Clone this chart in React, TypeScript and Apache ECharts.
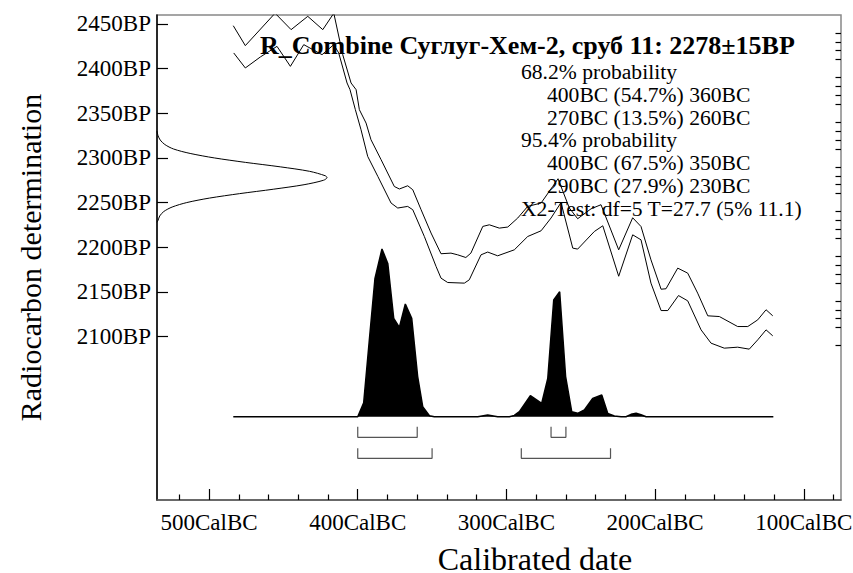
import React, { useEffect, useRef } from "react";
import * as echarts from "echarts";

// ---------- data ----------
const TITLE = "R_Combine Суглуг-Хем-2, сруб 11: 2278±15BP";
const X_NAME = "Calibrated date";
const Y_NAME = "Radiocarbon determination";
const RANGES_68: [number, number, number][] = [
  [400, 360, 54.7],
  [270, 260, 13.5],
];
const RANGES_95: [number, number, number][] = [
  [400, 350, 67.5],
  [290, 230, 27.9],
];
const CHI_TEXT = "X2-Test: df=5 T=27.7 (5% 11.1)";

const X_LABELS = [100, 200, 300, 400, 500]; // CalBC
const X_MINOR = [80, 120, 140, 160, 180, 220, 240, 260, 280, 320, 340, 360, 380, 420, 440, 460, 480, 520];
const Y_LABELS = [2100, 2150, 2200, 2250, 2300, 2350, 2400, 2450]; // BP
const Y_MINOR = [2090, 2110, 2120, 2130, 2140, 2160, 2170, 2180, 2190, 2210, 2220, 2230, 2240, 2260, 2270, 2280, 2290, 2310, 2320, 2330, 2340, 2360, 2370, 2380, 2390, 2410, 2420, 2430, 2440];

// calibration curve (+1 sigma / -1 sigma), [calBC, BP]
const CURVE_UPPER: [number, number][] = [
  [483.7, 2448], [475.6, 2425.7], [455.6, 2462], [444.8, 2443.6], [433.6, 2458.5], [423.5, 2443.6],
  [416.1, 2462], [410.1, 2415.6], [404.5, 2383.9], [401.1, 2376.4], [398.9, 2354], [394.4, 2339],
  [391.1, 2320.4], [384.3, 2298], [375.4, 2268], [372, 2265.2], [366.4, 2268.8], [363, 2264.4],
  [357.4, 2242], [350.7, 2215.9], [344, 2192.7], [337.3, 2193.4], [332.8, 2191.5], [327.3, 2188.5],
  [323.9, 2193.4], [315.9, 2223.3], [311.5, 2225.1], [304.8, 2221.4], [299.1, 2222.6], [292.4, 2232.7],
  [285.7, 2245.7], [276.7, 2249.5], [268.9, 2268], [265.3, 2276.7], [257.7, 2243.9], [252.1, 2231.9],
  [243.1, 2243], [236.4, 2247.6], [224.5, 2197.1], [215.1, 2233], [209.5, 2223.2], [202.8, 2185.9],
  [196, 2153], [192.7, 2153.5], [184.8, 2176.6], [178.1, 2171], [171.4, 2148.6], [164.6, 2123.2],
  [156.8, 2122.4], [144.5, 2111.2], [137.7, 2111.2], [131, 2118.7], [125.4, 2130], [120.9, 2123.2],
];
const CURVE_LOWER: [number, number][] = [
  [483.4, 2417.5], [475.6, 2400.7], [465.5, 2413], [454.3, 2424.9], [445.3, 2402.5], [436.3, 2426.8],
  [424, 2415.6], [416.1, 2426.8], [412.8, 2417.5], [407.2, 2383.9], [405.2, 2376.4], [401.6, 2354],
  [397.8, 2331.6], [393.3, 2301.7], [386.5, 2279.3], [377.6, 2249.5], [373.1, 2243.9], [366.4, 2245.7],
  [363, 2242], [355.2, 2212], [347.3, 2178.4], [344, 2165.4], [339.5, 2160.5], [328.3, 2159.8],
  [325, 2163.5], [317.1, 2191.5], [312.6, 2194.6], [305.9, 2190.4], [294.7, 2197.1], [285.7, 2212],
  [276.7, 2218.4], [270, 2232.7], [263.3, 2250], [255.4, 2199], [252.1, 2197.9], [240.9, 2217.6],
  [235.2, 2224], [224.5, 2167.5], [215.1, 2213.9], [209.5, 2208.3], [202.8, 2159.8], [196, 2129.1],
  [191.5, 2129.1], [184.3, 2145.9], [178.1, 2140], [169.1, 2107.5], [162.4, 2092.6], [153.5, 2087],
  [144.5, 2088.1], [136.7, 2085.9], [131, 2096.3], [125.4, 2107.5], [120.9, 2100.8],
];

// measured radiocarbon date distribution, [BP, relative probability]
const DATE_DIST: [number, number][] = [
  [2330, 0], [2325, 0.6], [2320, 1.9], [2315, 4.6], [2310, 9.7], [2305, 19.5], [2300, 33.7],
  [2295, 52], [2290, 72.5], [2285, 89.7], [2280, 99], [2278, 100], [2275, 98], [2270, 86.5],
  [2265, 68.7], [2260, 48.6], [2255, 30.8], [2250, 17.5], [2245, 8.9], [2240, 4], [2235, 1.6],
  [2230, 0.6], [2228, 0],
];

// calibrated distribution, [calBC, relative probability]
const POSTERIOR: [number, number][] = [
  [483.7, 0], [400, 0], [396, 8.3], [392.2, 45.7], [388.4, 82.5], [383.7, 100], [379.8, 91.4],
  [375.8, 58.6], [372, 53.3], [368, 67.2], [363.7, 58.6], [359.7, 23.9], [356.3, 6], [351.8, 0.6],
  [348.5, 0], [319.3, 0], [312.6, 1], [305.9, 0], [298, 0], [294.7, 0.8], [291.3, 3], [283.9, 12.5],
  [276.3, 7.9], [272.2, 22.8], [268.2, 69.6], [264.2, 74.5], [260.2, 23.9], [256.1, 3], [252.1, 2],
  [247.6, 4], [242, 10.9], [235.9, 12.9], [231.9, 2], [227.4, 0.4], [222.9, 0], [219.6, 0],
  [216.2, 1.4], [212.8, 2], [209.5, 1.2], [206.1, 0], [120.5, 0],
];

// ---------- layout ----------
const W = 853;
const H = 573;
const GRID = { left: 157, right: 12, top: 15, bottom: 73 };
const X_MIN = 75;
const X_MAX = 535;
const Y_MIN = 1917;
const Y_MAX = 2460;
const DIST_BASE_PX = 416.7; // baseline of calibrated distribution
const DIST_PEAK_PX = 249; // top of highest peak
const GAUSS_PEAK_PX = 170; // width of date distribution peak
const FONT = "'Liberation Serif', 'Times New Roman', serif";

export default function App() {
  const ref = useRef<HTMLDivElement>(null);
  useEffect(() => {
    if (!ref.current) return;
    const chart = echarts.init(ref.current, null, { renderer: "svg" });

    const gridBottomPx = H - GRID.bottom;
    const gridW = W - GRID.left - GRID.right;
    const upp = 100 / (DIST_BASE_PX - DIST_PEAK_PX); // units per px
    const distMin = -(gridBottomPx - DIST_BASE_PX) * upp;
    const distMax = (DIST_BASE_PX - GRID.top) * upp;
    const gaussMax = (100 * gridW) / GAUSS_PEAK_PX;

    const br68Top = -10 * upp;
    const br68Bar = -20.6 * upp;
    const br95Top = -31.6 * upp;
    const br95Bar = -41.6 * upp;

    const bracket = (r: [number, number, number], top: number, bar: number) => ({
      type: "line",
      xAxisIndex: 0,
      yAxisIndex: 2,
      symbol: "none",
      silent: true,
      clip: false,
      lineStyle: { color: "#555", width: 1.2 },
      data: [
        [r[0], top],
        [r[0], bar],
        [r[1], bar],
        [r[1], top],
      ],
    });

    const textLines: { t: string; indent: boolean }[] = [
      { t: "68.2% probability", indent: false },
      ...RANGES_68.map((r) => ({ t: `${r[0]}BC (${r[2]}%) ${r[1]}BC`, indent: true })),
      { t: "95.4% probability", indent: false },
      ...RANGES_95.map((r) => ({ t: `${r[0]}BC (${r[2]}%) ${r[1]}BC`, indent: true })),
      { t: CHI_TEXT, indent: false },
    ];

    const baseTick = { show: true, inside: true, lineStyle: { color: "#000", width: 1.2 } };
    const richLabel = { s: { fontSize: 23, fontFamily: FONT, color: "#000" } };

    chart.setOption({
      animation: false,
      backgroundColor: "#fff",
      textStyle: { fontFamily: FONT },
      grid: {
        ...GRID,
        containLabel: false,
        outerBoundsMode: "none",
        show: true,
        borderColor: "#888",
        borderWidth: 1.5,
        backgroundColor: "transparent",
      },
      xAxis: [
        {
          type: "value",
          min: X_MIN,
          max: X_MAX,
          inverse: true,
          position: "bottom",
          axisLine: { show: true, onZero: false, lineStyle: { color: "#555", width: 1.5 } },
          axisTick: { ...baseTick, length: 11, customValues: X_LABELS },
          axisLabel: {
            customValues: X_LABELS,
            formatter: (v: number) => `{s|${v}CalBC}`,
            rich: richLabel,
            fontSize: 23,
            fontFamily: FONT,
            margin: 11,
          },
          splitLine: { show: false },
        },
        {
          type: "value",
          min: X_MIN,
          max: X_MAX,
          inverse: true,
          position: "bottom",
          axisLine: { show: false, onZero: false },
          axisTick: { ...baseTick, length: 5.5, customValues: X_MINOR },
          axisLabel: { show: false },
          splitLine: { show: false },
        },
        {
          type: "value",
          min: 0,
          max: gaussMax,
          show: false,
          axisLine: { onZero: false },
        },
      ],
      yAxis: [
        {
          type: "value",
          min: Y_MIN,
          max: Y_MAX,
          axisLine: { show: true, onZero: false, lineStyle: { color: "#000", width: 1.5 } },
          axisTick: { ...baseTick, length: 11, customValues: Y_LABELS },
          axisLabel: {
            customValues: Y_LABELS,
            formatter: (v: number) => `{s|${v}BP}`,
            rich: richLabel,
            fontSize: 23,
            fontFamily: FONT,
            margin: 6,
          },
          splitLine: { show: false },
        },
        {
          type: "value",
          min: Y_MIN,
          max: Y_MAX,
          axisLine: { show: false, onZero: false },
          axisTick: { ...baseTick, length: 5.5, customValues: Y_MINOR },
          axisLabel: { show: false },
          splitLine: { show: false },
        },
        {
          type: "value",
          min: distMin,
          max: distMax,
          show: false,
          axisLine: { onZero: false },
        },
      ],
      graphic: [
        {
          type: "text",
          x: 260,
          y: 45,
          z: 1,
          style: {
            text: TITLE,
            font: `bold 26px ${FONT}`,
            fill: "#000",
            align: "left",
            verticalAlign: "middle",
          },
        },
        ...textLines.map((l, i) => ({
          type: "text",
          x: l.indent ? 547 : 521,
          y: 72 + i * 22.8,
          z: 1,
          style: {
            text: l.t,
            font: `21.6px ${FONT}`,
            fill: "#000",
            align: "left",
            verticalAlign: "middle",
          },
        })),
        {
          type: "text",
          x: 535,
          y: 559,
          style: {
            text: X_NAME,
            font: `32px ${FONT}`,
            lineHeight: 28,
            fill: "#000",
            align: "center",
            verticalAlign: "middle",
          },
        },
        {
          type: "text",
          x: 30,
          y: (GRID.top + H - GRID.bottom) / 2,
          rotation: Math.PI / 2,
          style: {
            text: Y_NAME,
            font: `30px ${FONT}`,
            fill: "#000",
            align: "center",
            verticalAlign: "middle",
          },
        },
      ],
      series: [
        {
          type: "line",
          xAxisIndex: 0,
          yAxisIndex: 0,
          symbol: "none",
          silent: true,
          lineStyle: { color: "#000", width: 1 },
          data: CURVE_UPPER,
        },
        {
          type: "line",
          xAxisIndex: 0,
          yAxisIndex: 0,
          symbol: "none",
          silent: true,
          lineStyle: { color: "#000", width: 1 },
          data: CURVE_LOWER,
        },
        {
          type: "line",
          xAxisIndex: 2,
          yAxisIndex: 0,
          symbol: "none",
          silent: true,
          smooth: 0.3,
          lineStyle: { color: "#000", width: 1 },
          data: DATE_DIST.map(([bp, p]) => [p, bp]),
        },
        {
          type: "line",
          xAxisIndex: 0,
          yAxisIndex: 2,
          symbol: "none",
          silent: true,
          lineStyle: { color: "#000", width: 1.5 },
          areaStyle: { color: "#000", opacity: 1 },
          data: POSTERIOR,
        },
        ...RANGES_68.map((r) => bracket(r, br68Top, br68Bar)),
        ...RANGES_95.map((r) => bracket(r, br95Top, br95Bar)),
      ],
    });
    return () => chart.dispose();
  }, []);

  return (
    <div
      ref={ref}
      style={{ position: "fixed", left: 0, top: 0, width: W, height: H, background: "#fff" }}
    />
  );
}
